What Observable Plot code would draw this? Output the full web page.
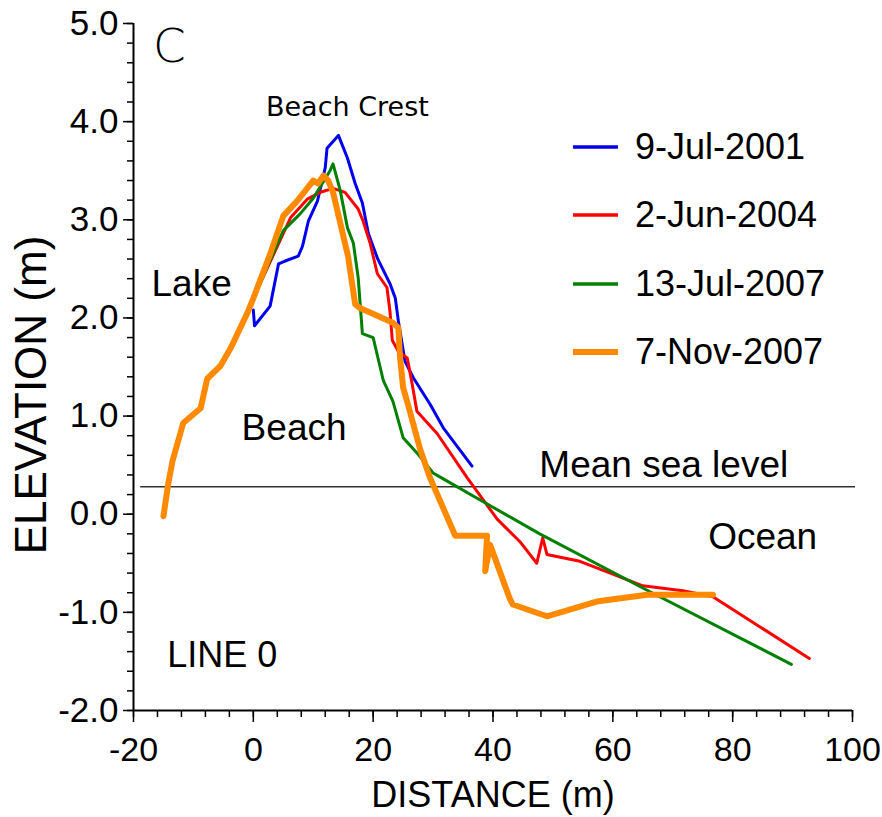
<!DOCTYPE html>
<html>
<head>
<meta charset="utf-8">
<script src="https://cdn.jsdelivr.net/npm/d3@7"></script>
<script src="https://cdn.jsdelivr.net/npm/@observablehq/plot@0.6"></script>
<style>
  body { margin: 0; background: #fff; }
  #chart { position: relative; width: 882px; height: 817px; font-family: "Liberation Sans", Arial, sans-serif; }
  #legend { position: absolute; left: 573px; top: 0; }
  #legend .row { position: absolute; left: 0; height: 40px; display: flex; align-items: center; white-space: nowrap; font-size: 36px; color: #000; }
  #legend svg { margin-right: 17px; }
</style>
</head>
<body>
<div id="chart"><div id="legend"></div></div>
<script>
// Beach profile surveys, LINE 0: distance (m) vs elevation (m)
const surveys = ["9-Jul-2001", "2-Jun-2004", "13-Jul-2007", "7-Nov-2007"];
const colors = ["#0000ee", "#ff0000", "#008000", "#ff8a00"];
const widths = [3, 3, 3, 6];

const dist2001 = [0, 0.2, 2.8, 4.2, 5.3, 7.5, 8.2, 9.2, 10.7, 12.0, 12.3, 14.2, 15.7, 17.0, 18.2, 19.2, 20.7, 22.8, 23.7, 24.2, 25.3, 26.7, 29.5, 31.7, 36.5];
const elev2001 = [2.08, 1.92, 2.12, 2.55, 2.58, 2.63, 2.73, 2.99, 3.19, 3.53, 3.73, 3.86, 3.63, 3.37, 3.17, 2.86, 2.61, 2.35, 2.20, 1.97, 1.56, 1.39, 1.12, 0.88, 0.49];

const dist2004 = [0, 6.2, 9.0, 11.2, 13.3, 15.3, 17.5, 18.3, 19.5, 20.7, 22.3, 22.8, 23.2, 24.2, 25.7, 26.5, 27.3, 30.7, 35.7, 40.7, 44.5, 47.3, 48.3, 49.0, 54.5, 60.0, 65.0, 71.7, 76.7, 92.8];
const elev2004 = [2.20, 3.02, 3.21, 3.28, 3.32, 3.28, 3.11, 2.99, 2.76, 2.45, 2.31, 2.07, 1.77, 1.66, 1.59, 1.33, 1.05, 0.82, 0.37, -0.05, -0.28, -0.50, -0.24, -0.41, -0.48, -0.61, -0.73, -0.78, -0.84, -1.47];

const distJul2007 = [0, 5.0, 7.8, 10.0, 12.8, 13.3, 14.5, 15.7, 16.7, 17.5, 18.2, 20.0, 21.7, 23.3, 25.0, 27.5, 30.0, 31.7, 38.3, 47.8, 66.2, 89.8];
const elevJul2007 = [2.20, 2.89, 3.06, 3.22, 3.50, 3.57, 3.30, 2.92, 2.76, 2.41, 1.84, 1.80, 1.36, 1.15, 0.78, 0.61, 0.42, 0.36, 0.13, -0.20, -0.79, -1.53];

const distNov2007 = [-15.0, -14.2, -13.5, -11.7, -8.8, -7.7, -5.5, -3.8, -1.0, 0, 2.8, 5.0, 7.3, 10.0, 10.8, 11.7, 12.5, 13.3, 14.5, 15.8, 17.0, 17.8, 23.3, 24.2, 24.5, 25.0, 25.8, 27.8, 29.5, 33.7, 39.0, 38.7, 39.5, 42.8, 43.3, 49.0, 57.3, 65.7, 76.7];
const elevNov2007 = [-0.02, 0.31, 0.54, 0.93, 1.08, 1.38, 1.51, 1.69, 2.05, 2.20, 2.65, 3.04, 3.19, 3.40, 3.37, 3.45, 3.40, 3.28, 2.97, 2.63, 2.14, 2.10, 1.95, 1.90, 1.59, 1.29, 1.12, 0.67, 0.37, -0.22, -0.22, -0.58, -0.31, -0.86, -0.92, -1.04, -0.89, -0.82, -0.82];

const meanSeaLevel = 0.28;

const xTicks = [-20, 0, 20, 40, 60, 80, 100];
const yTicks = [-2, -1, 0, 1, 2, 3, 4, 5];

// Region labels placed in data units
const notes = [
  {x: -14.0, y: 4.76, text: "C", font: "DejaVu Sans", size: 47, weight: 300},
  {x: 15.7, y: 4.15, text: "Beach Crest", font: "DejaVu Sans", size: 27, weight: 400},
  {x: -10.3, y: 2.34, text: "Lake", font: "Liberation Sans", size: 37, weight: 400},
  {x: 6.8, y: 0.88, text: "Beach", font: "Liberation Sans", size: 37, weight: 400},
  {x: 68.5, y: 0.50, text: "Mean sea level", font: "Liberation Sans", size: 37, weight: 400},
  {x: 85.0, y: -0.23, text: "Ocean", font: "Liberation Sans", size: 37, weight: 400},
  {x: -5.2, y: -1.44, text: "LINE 0", font: "Liberation Sans", size: 36, weight: 400}
];

const profiles = [
  [dist2001, elev2001],
  [dist2004, elev2004],
  [distJul2007, elevJul2007],
  [distNov2007, elevNov2007]
].map(([xs, ys], i) => xs.map((d, j) => ({distance: d, elevation: ys[j], survey: surveys[i]})));

const minorX = d3.range(-5, 26).map(i => i * 4);
const minorY = d3.range(-10, 26).map(i => i / 5);

const lineMarks = profiles.map((pts, i) =>
  Plot.line(pts, {x: "distance", y: "elevation", stroke: colors[i], strokeWidth: widths[i], strokeLinejoin: "round", strokeLinecap: "round"})
);

const noteMarks = notes.map(n =>
  Plot.text([n], {x: "x", y: "y", text: "text", fontFamily: n.font, fontSize: n.size, fontWeight: n.weight, fill: "#000", textAnchor: "middle"})
);

const chart = Plot.plot({
  width: 882,
  height: 817,
  marginLeft: 133,
  marginRight: 30,
  marginTop: 23,
  marginBottom: 107,
  style: {fontFamily: "Liberation Sans, Arial, sans-serif", color: "#000", background: "#fff", overflow: "visible"},
  x: {domain: [-20, 100]},
  y: {domain: [-2, 5]},
  marks: [
    Plot.axisX(minorX, {tickSize: 7, tickFormat: () => "", strokeWidth: 1.5}),
    Plot.axisX(xTicks, {tickSize: 12, tickPadding: 14, tickFormat: d => String(d), fontSize: 34, strokeWidth: 1.5, label: null}),
    Plot.axisY(minorY, {tickSize: 6, tickFormat: () => "", strokeWidth: 1.5}),
    Plot.axisY(yTicks, {tickSize: 10, tickPadding: 5, tickFormat: d => d.toFixed(1), fontSize: 35, strokeWidth: 1.5, label: null}),
    Plot.ruleY([-2], {stroke: "#000", strokeWidth: 2}),
    Plot.ruleX([-20], {stroke: "#000", strokeWidth: 2}),
    Plot.ruleY([meanSeaLevel], {x1: -18.8, x2: 100.5, stroke: "#333", strokeWidth: 1.6, clip: false}),
    ...lineMarks,
    ...noteMarks,
    Plot.text(["DISTANCE (m)"], {frameAnchor: "bottom", dy: 96, fontSize: 36, fill: "#000"}),
    Plot.text(["ELEVATION (m)"], {frameAnchor: "left", dx: -102, dy: 28, rotate: -90, textAnchor: "middle", fontSize: 44, fill: "#000"})
  ]
});

const root = document.getElementById("chart");
root.insertBefore(chart, root.firstChild);

// Legend: one row per survey
const legend = document.getElementById("legend");
const rowCenters = [147, 215, 284, 352];
surveys.forEach((name, i) => {
  const row = document.createElement("div");
  row.className = "row";
  row.style.top = (rowCenters[i] - 20) + "px";
  const sw = d3.create("svg").attr("width", 45).attr("height", 10);
  sw.append("line").attr("x1", 0).attr("x2", 45).attr("y1", 5).attr("y2", 5)
    .attr("stroke", colors[i]).attr("stroke-width", widths[i] === 6 ? 6 : 3.5);
  row.appendChild(sw.node());
  const label = document.createElement("span");
  label.textContent = name;
  row.appendChild(label);
  legend.appendChild(row);
});
</script>
</body>
</html>
